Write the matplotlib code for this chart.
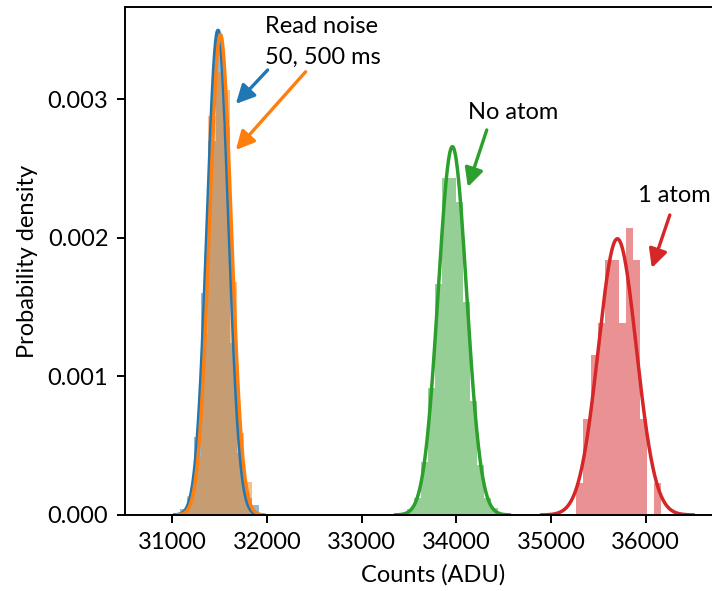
import numpy as np
import matplotlib
matplotlib.use("Agg")
import matplotlib.pyplot as plt

plt.rcParams["font.family"] = ["Lato", "DejaVu Sans"]

# Histogram bins: left edge, bin width (ADU) and probability density per bin
READ50_EDGE0, READ50_WIDTH = 31077, 76
READ50_DENS = [0.00004, 0.00012, 0.00056, 0.00160, 0.00270, 0.00340,
               0.00280, 0.00124, 0.00045, 0.00012, 0.00007]
READ500_EDGE0, READ500_WIDTH = 31077, 76
READ500_DENS = [0.00002, 0.00014, 0.00042, 0.00131, 0.00288, 0.00320,
                0.00307, 0.00168, 0.00059, 0.00024, 0.00003]
NOATOM_EDGE0, NOATOM_WIDTH = 33480, 74
NOATOM_DENS = [0.00004, 0.00012, 0.00038, 0.00092, 0.00167, 0.00243, 0.00243,
               0.00226, 0.00154, 0.00082, 0.00036, 0.00012, 0.00005]
ONEATOM_EDGE0, ONEATOM_WIDTH = 35266, 74.8
ONEATOM_DENS = [0.000230, 0.000691, 0.001152, 0.001383, 0.001844, 0.001844,
                0.001383, 0.002074, 0.001844, 0.000691, 0.0, 0.000230]

# Gaussian fits (mean, sigma) in ADU
READ50_FIT = (31482, 114)
READ500_FIT = (31507, 115)
NOATOM_FIT = (33957, 150)
ONEATOM_FIT = (35699, 200)

SERIES = [
    (READ50_EDGE0, READ50_WIDTH, READ50_DENS, READ50_FIT, "tab:blue"),
    (READ500_EDGE0, READ500_WIDTH, READ500_DENS, READ500_FIT, "tab:orange"),
    (NOATOM_EDGE0, NOATOM_WIDTH, NOATOM_DENS, NOATOM_FIT, "tab:green"),
    (ONEATOM_EDGE0, ONEATOM_WIDTH, ONEATOM_DENS, ONEATOM_FIT, "tab:red"),
]


def gauss(x, mu, sig):
    return np.exp(-0.5 * ((x - mu) / sig) ** 2) / (sig * np.sqrt(2 * np.pi))


fig = plt.figure(figsize=(7.12, 5.91), dpi=100)
ax = fig.add_axes([0.1756, 0.1286, 0.8645, 0.8596])

for edge0, width, dens, (mu, sig), c in SERIES:
    edges = edge0 + width * np.arange(len(dens) + 1)
    centers = 0.5 * (edges[:-1] + edges[1:])
    ax.hist(centers, bins=edges, weights=dens, color=c, alpha=0.5)
    xs = np.linspace(mu - 4 * sig, mu + 4 * sig, 400)
    ax.plot(xs, gauss(xs, mu, sig), color=c, lw=2.5)

fs = 17
arrow = dict(arrowstyle="-|>,head_length=0.8,head_width=0.4", lw=2.4,
             mutation_scale=14, shrinkA=0, shrinkB=0)
ax.text(31975, 0.003415, "Read noise\n50, 500 ms", fontsize=fs,
        ha="left", va="center", linespacing=1.55)
ax.annotate("", xy=(31670, 0.002968), xytext=(32006, 0.003213),
            arrowprops=dict(arrow, color="tab:blue"))
ax.annotate("", xy=(31670, 0.002635), xytext=(32407, 0.00320),
            arrowprops=dict(arrow, color="tab:orange"))
ax.text(34120, 0.002903, "No atom", fontsize=fs, ha="left", va="center")
ax.annotate("", xy=(34120, 0.002368), xytext=(34320, 0.00278),
            arrowprops=dict(arrow, color="tab:green"))
ax.text(35915, 0.00231, "1 atom", fontsize=fs, ha="left", va="center")
ax.annotate("", xy=(36063, 0.001783), xytext=(36253, 0.002166),
            arrowprops=dict(arrow, color="tab:red"))

ax.set_xlim(30500, 37000)
ax.set_ylim(0, 0.003668)
ax.set_xticks([31000, 32000, 33000, 34000, 35000, 36000])
ax.set_yticks([0.000, 0.001, 0.002, 0.003])
ax.set_yticklabels(["0.000", "0.001", "0.002", "0.003"])
ax.tick_params(labelsize=fs, width=1.4, length=6, pad=6)
for s in ax.spines.values():
    s.set_linewidth(1.4)
ax.set_xlabel("Counts (ADU)", fontsize=fs, labelpad=8)
ax.set_ylabel("Probability density", fontsize=fs, labelpad=7)

fig.savefig("out.png", dpi=100)
